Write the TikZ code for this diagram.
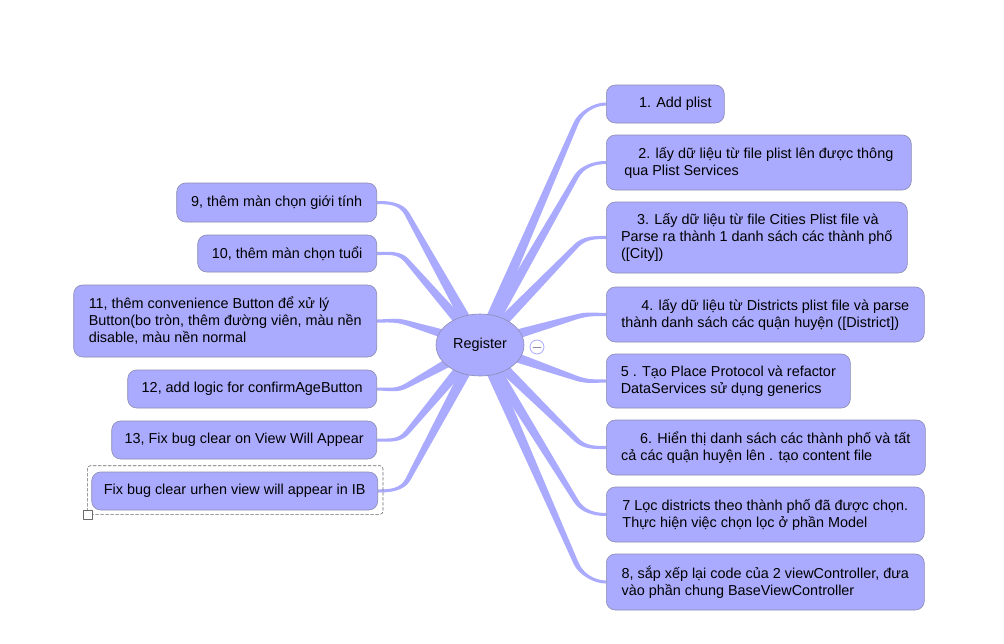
\documentclass[tikz,border=0pt]{standalone}
\usepackage{fontspec}
\setmainfont{Liberation Sans}
\usetikzlibrary{shapes.geometric,calc,backgrounds}
\definecolor{leaf}{RGB}{170,170,255}
\definecolor{leafline}{RGB}{140,140,178}
\definecolor{selgray}{RGB}{105,105,105}
\tikzset{
  leaf/.style={draw=leafline, fill=leaf, rounded corners=9pt, align=left, inner xsep=11pt, inner ysep=0pt, line width=0.6pt},
  root/.style={ellipse, draw=leafline, fill=leaf, inner sep=0pt, line width=0.6pt},
  branch/.style={fill=leaf}
}
\begin{document}
\begin{tikzpicture}[x=1pt, y=-1pt, font=\fontsize{14.4}{17}\selectfont, line join=round, line cap=round]
\useasboundingbox (0,0) rectangle (1004,643);
\node[root, minimum width=88, minimum height=62] (reg) at (480,345) {Register};
% right side
\node[leaf, anchor=west, minimum width=118, minimum height=38] (n1) at (606,104) {\hspace*{20pt}1. Add plist};
\node[leaf, anchor=west, minimum width=305, minimum height=55] (n2) at (606,162.5) {\hspace*{14pt}2. lấy dữ liệu từ file plist lên được thông\\qua Plist Services};
\node[leaf, anchor=west, minimum width=301, minimum height=71] (n3) at (606,237.5) {\hspace*{16pt}3. Lấy dữ liệu từ file Cities Plist file và\\Parse ra thành 1 danh sách các thành phố\\([City])};
\node[leaf, anchor=west, minimum width=318, minimum height=55] (n4) at (606,314.5) {\hspace*{20pt}4. lấy dữ liệu từ Districts plist file và parse\\thành danh sách các quận huyện ([District])};
\node[leaf, anchor=west, minimum width=244, minimum height=54] (n5) at (606,381) {5 . Tạo Place Protocol và refactor\\DataServices sử dụng generics};
\node[leaf, anchor=west, minimum width=319, minimum height=55] (n6) at (606,447.5) {\hspace*{19pt}6. Hiển thị danh sách các thành phố và tất\\cả các quận huyện lên . tạo content file};
\node[leaf, anchor=west, minimum width=318, minimum height=55] (n7) at (606,514.5) {7 Lọc districts theo thành phố đã được chọn.\\Thực hiện việc chọn lọc ở phần Model};
\node[leaf, anchor=west, minimum width=318, minimum height=56] (n8) at (606,582) {8, sắp xếp lại code của 2 viewController, đưa\\vào phần chung BaseViewController};
% left side
\node[leaf, anchor=east, minimum width=200, minimum height=39] (n9) at (377,202.5) {9, thêm màn chọn giới tính};
\node[leaf, anchor=east, minimum width=179, minimum height=37] (n10) at (377,253.5) {10, thêm màn chọn tuổi};
\node[leaf, anchor=east, minimum width=303, minimum height=72] (n11) at (377,321) {11, thêm convenience Button để xử lý\\Button(bo tròn, thêm đường viên, màu nền\\disable, màu nền normal};
\node[leaf, anchor=east, minimum width=249, minimum height=38] (n12) at (377,389) {12, add logic for confirmAgeButton};
\node[leaf, anchor=east, minimum width=265, minimum height=38] (n13) at (377,440) {13, Fix bug clear on View Will Appear};
\node[leaf, anchor=east, minimum width=286, minimum height=38] (n14) at (378,491) {Fix bug clear urhen view will appear in IB};
% selection frame
\coordinate (selsw) at ($(n14.south west)+(-4,4)$);
\coordinate (selne) at ($(n14.north east)+(5,-6)$);
\draw[selgray, dashed, dash pattern=on 3pt off 2pt, line width=0.6pt, rounded corners=3pt] (selsw) rectangle (selne);
\node[draw=selgray, fill=white, minimum size=9, inner sep=0pt, line width=0.6pt] (grip) at (selsw) {};
% fold button
\node[circle, draw=leaf, fill=white, minimum size=14, inner sep=0pt, line width=0.8pt] (fold) at (537,347) {};
\draw[leaf, line width=0.8pt] ($(fold.center)+(-4,0)$) -- ($(fold.center)+(4,0)$);
\begin{scope}[on background layer]
\foreach \n/\a/\side in {n1/west/1,n2/west/1,n3/west/1,n4/west/1,n5/west/1,n6/west/1,n7/west/1,n8/west/1,
  n9/east/-1,n10/east/-1,n11/east/-1,n12/east/-1,n13/east/-1,n14/east/-1}{
  \coordinate (e) at (\n.\a);
  \coordinate (m) at ($(e)!.08!(reg.center)$);
  \coordinate (k) at ($(e)+(-30*\side,0)$);
  \coordinate (p) at (k |- m);
  \coordinate (q) at ($(p)!-12pt!(reg.center)$);
  \coordinate (c2) at ($(e)+(-12*\side,0)$);
  \fill[branch] ($(reg.center)!6pt!90:(p)$) -- ($(p)!2.5pt!-90:(reg.center)$)
    .. controls ($(q)!2.2pt!-90:(p)$) and ($(c2)+(0,-1.7*\side)$) .. ($(e)+(0,-1.5*\side)$)
    -- ($(e)+(0,1.5*\side)$)
    .. controls ($(c2)+(0,1.7*\side)$) and ($(q)!2.2pt!90:(p)$) .. ($(p)!2.5pt!90:(reg.center)$)
    -- ($(reg.center)!6pt!-90:(p)$) -- cycle;
}
\end{scope}
\end{tikzpicture}
\end{document}
